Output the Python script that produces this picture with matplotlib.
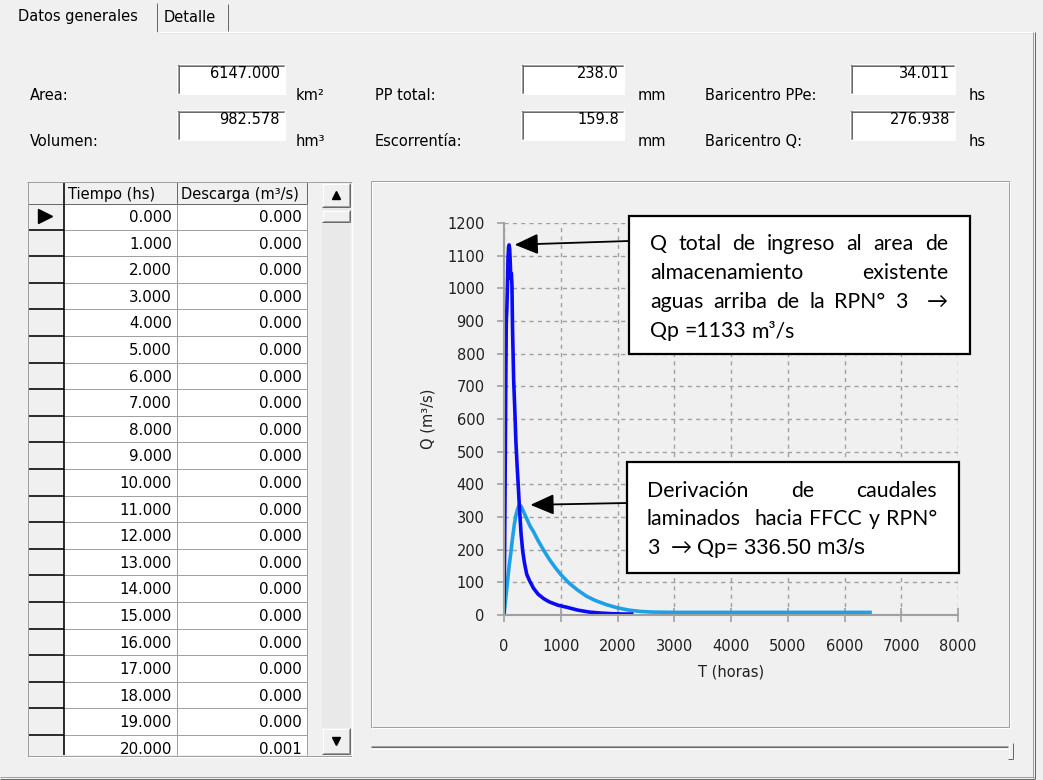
import matplotlib
matplotlib.use("Agg")
import matplotlib.pyplot as plt
from matplotlib.patches import Rectangle

# ---- values ----
row1_labels = ["Area:", "PP total:", "Baricentro PPe:"]
row1_values = ["6147.000", "238.0", "34.011"]
row1_units = ["km²", "mm", "hs"]
row2_labels = ["Volumen:", "Escorrentía:", "Baricentro Q:"]
row2_values = ["982.578", "159.8", "276.938"]
row2_units = ["hm³", "mm", "hs"]

table_headers = ["Tiempo (hs)", "Descarga (m³/s)"]
tiempo_hs = [0.0, 1.0, 2.0, 3.0, 4.0, 5.0, 6.0, 7.0, 8.0, 9.0, 10.0,
             11.0, 12.0, 13.0, 14.0, 15.0, 16.0, 17.0, 18.0, 19.0, 20.0]
descarga = [0.000, 0.000, 0.000, 0.000, 0.000, 0.000, 0.000, 0.000, 0.000, 0.000, 0.000,
            0.000, 0.000, 0.000, 0.000, 0.000, 0.000, 0.000, 0.000, 0.000, 0.001]

# inflow hydrograph (dark blue)
inflow_t = [0, 10, 20, 30, 40, 50, 60, 70, 80, 90, 100, 110, 120, 130, 140, 150, 170, 190,
            210, 230, 250, 270, 300, 330, 360, 400, 450, 520, 600, 700, 800, 950, 1100,
            1300, 1500, 1700, 1900, 2100, 2250]
inflow_q = [0, 180, 420, 680, 900, 935, 1000, 1090, 1125, 1133, 1120, 1080, 1030, 1045,
            1010, 880, 720, 630, 530, 460, 400, 335, 250, 195, 160, 125, 105, 82, 64, 50,
            40, 30, 24, 15, 9, 6, 4, 3, 3]

# routed / diverted hydrograph (light blue)
routed_t = [0, 30, 60, 90, 120, 150, 180, 210, 240, 270, 300, 340, 400, 460, 520, 600, 700,
            800, 900, 1000, 1150, 1300, 1450, 1600, 1800, 2000, 2200, 2400, 2600, 3000,
            4000, 5000, 6000, 6450]
routed_q = [0, 50, 100, 150, 190, 235, 275, 305, 325, 336.5, 333, 318, 295, 272, 255, 228,
            198, 170, 146, 124, 97, 76, 58, 45, 32, 22, 15, 11, 9, 8, 8, 8, 8, 8]

x_ticks = [0, 1000, 2000, 3000, 4000, 5000, 6000, 7000, 8000]
y_ticks = [0, 100, 200, 300, 400, 500, 600, 700, 800, 900, 1000, 1100, 1200]

note_inflow = ["Q total de ingreso al area de",
               "almacenamiento existente",
               "aguas arriba de la RPN° 3  →",
               "Qp =1133 m³/s"]
note_routed = ["Derivación de caudales",
               "laminados  hacia FFCC y RPN°",
               "3  → Qp=",
               "336.50 m3/s"]

W, H = 1043, 780
BG = "#f0f0f0"
GRAY = "#a0a0a0"
DARK = "#696969"
GUI_FONT = "DejaVu Sans"
NOTE_FONT = ["Lato", "DejaVu Sans"]

fig = plt.figure(figsize=(W / 100, H / 100), dpi=100, facecolor=BG)

# pixel-coordinate layer for the window widgets
gui = fig.add_axes([0, 0, 1, 1], zorder=0)
gui.set_xlim(0, W)
gui.set_ylim(H, 0)
gui.axis("off")


def hline(y, x0, x1, c, lw=1.0, ax=gui):
    ax.plot([x0, x1], [y, y], color=c, lw=lw * 0.72, solid_capstyle="butt")


def vline(x, y0, y1, c, lw=1.0, ax=gui):
    ax.plot([x, x], [y0, y1], color=c, lw=lw * 0.72, solid_capstyle="butt")


def sunken(x0, y0, x1, y1, fill="white"):
    gui.add_patch(Rectangle((x0, y0), x1 - x0, y1 - y0, facecolor=fill, edgecolor="none"))
    hline(y0 + 0.5, x0, x1, GRAY)
    vline(x0 + 0.5, y0, y1, GRAY)
    hline(y0 + 1.5, x0 + 1, x1 - 1, DARK)
    vline(x0 + 1.5, y0 + 1, y1 - 1, DARK)
    hline(y1 - 0.5, x0, x1, "white")
    vline(x1 - 0.5, y0, y1, "white")


def raised(x0, y0, x1, y1):
    gui.add_patch(Rectangle((x0, y0), x1 - x0, y1 - y0, facecolor=BG, edgecolor="none"))
    hline(y0 + 0.5, x0, x1, "white")
    vline(x0 + 0.5, y0, y1, "white")
    hline(y1 - 0.5, x0, x1, DARK)
    vline(x1 - 0.5, y0, y1, DARK)
    hline(y1 - 1.5, x0 + 1, x1 - 1, GRAY)
    vline(x1 - 1.5, y0 + 1, y1 - 1, GRAY)


# tabs and page frame
gui.text(18, 17, "Datos generales", fontsize=10.5, family=GUI_FONT, va="center", color="black")
gui.text(164, 18, "Detalle", fontsize=10.5, family=GUI_FONT, va="center", color="black")
vline(157, 3, 32, DARK)
vline(228, 4, 31, DARK)
hline(32, 157, 1034, "white")
hline(33, 157, 1034, "#e3e3e3")
vline(1033, 32, 778, GRAY)
vline(1034.5, 32, 779, DARK)
hline(777, 0, 1034, GRAY)
hline(778.5, 0, 1035, DARK)

# header fields
label_x = [30, 375, 705]
box_x = [(177, 285), (521, 624), (850, 955)]
unit_x = [296, 638, 969]
rows = [(row1_labels, row1_values, row1_units, 64, 94, 96),
        (row2_labels, row2_values, row2_units, 110, 140, 142)]
for labels, values, units, by0, by1, ly in rows:
    for i in range(3):
        gui.text(label_x[i], ly, labels[i], fontsize=10.5, family=GUI_FONT, va="center")
        sunken(box_x[i][0], by0, box_x[i][1], by1)
        gui.text(box_x[i][1] - 5, by0 + 10, values[i], fontsize=10.5, family=GUI_FONT,
                 va="center", ha="right")
        gui.text(unit_x[i], ly, units[i], fontsize=10.5, family=GUI_FONT, va="center")

# data table
tx = [28, 64, 177, 307]
head_top, head_bot = 182, 204
row_top0, row_h = 203, 26.6
tab_bot = 755
gui.add_patch(Rectangle((tx[0], head_top), tx[3] - tx[0], tab_bot - head_top,
                        facecolor="white", edgecolor="none"))
gui.add_patch(Rectangle((tx[0], head_top), tx[1] - tx[0], tab_bot - head_top,
                        facecolor=BG, edgecolor="none"))
gui.add_patch(Rectangle((tx[0], head_top), tx[3] - tx[0], head_bot - head_top,
                        facecolor=BG, edgecolor="none"))
for k in range(len(tiempo_hs)):
    top = row_top0 + k * row_h
    bot = top + row_h
    if bot <= tab_bot:
        hline(bot, tx[1], tx[3], GRAY)
        hline(bot, tx[0], tx[1], "black", 1.6)
    base = top + 19
    if base < tab_bot:
        gui.text(tx[2] - 5, base, f"{tiempo_hs[k]:.3f}", fontsize=10.8, family=GUI_FONT,
                 ha="right", va="baseline", clip_on=True)
        gui.text(tx[3] - 5, base, f"{descarga[k]:.3f}", fontsize=10.8, family=GUI_FONT,
                 ha="right", va="baseline", clip_on=True)
hline(head_bot, tx[0], tx[3], DARK)
vline(tx[1], head_top, tab_bot, "black", 1.6)
vline(tx[2], head_top, tab_bot, GRAY)
vline(tx[2], head_top, head_bot, DARK)
vline(tx[3], head_top, tab_bot, GRAY)
vline(tx[3], head_top, head_bot, DARK)
hd1 = gui.text(tx[1] + 4, 195, table_headers[0], fontsize=10.5, family=GUI_FONT, va="center")
hd2 = gui.text(tx[2] + 4, 195, table_headers[1], fontsize=10.5, family=GUI_FONT, va="center")
hd2.set_clip_path(Rectangle((tx[2], head_top), tx[3] - tx[2], head_bot - head_top,
                            transform=gui.transData))
gui.plot(45, 216, marker=">", ms=10, color="black")
# table outline
hline(head_top, tx[0] - 1, 352, GRAY)
vline(tx[0], head_top, tab_bot + 2, GRAY)
hline(tab_bot + 1.5, tx[0], 352, "white")
hline(tab_bot + 0.5, tx[0], 352, GRAY)
vline(352, head_top, tab_bot + 2, "white")

# vertical scrollbar
gui.add_patch(Rectangle((322, 183), 28, 572, facecolor="#e9e9e9", edgecolor="none"))
raised(322, 183, 350, 207)
gui.plot(336, 195, marker="^", ms=6, color="black")
raised(322, 210, 350, 222)
raised(322, 728, 350, 754)
gui.plot(336, 741, marker="v", ms=6, color="black")

# chart panel frame and slider
hline(181, 371, 1010, GRAY)
vline(371, 181, 728, GRAY)
hline(182, 372, 1009, "white")
vline(372, 182, 727, "white")
hline(727.5, 371, 1010, "white")
vline(1009.5, 181, 728, "white")
hline(726.5, 372, 1009, GRAY)
vline(1008.5, 182, 727, GRAY)
hline(745.5, 371, 1008, GRAY)
hline(746.5, 371, 1008, DARK)
hline(748.5, 371, 1008, "white")
gui.add_patch(Rectangle((1008, 743), 5, 16, facecolor=BG, edgecolor="none"))
vline(1008.5, 743, 757, "white")
vline(1012.5, 743, 759, DARK)
hline(758.5, 1008, 1013, DARK)

# ---- the chart ----
ax = fig.add_axes([504 / W, 1 - 615 / H, 454 / W, 392 / H], zorder=1)
ax.set_facecolor("none")
ax.plot(routed_t, routed_q, color="#1ea0e6", lw=2.6)
ax.plot(inflow_t, inflow_q, color="#0a0af5", lw=2.6)
ax.set_xlim(0, 8000)
ax.set_ylim(0, 1200)
ax.set_xticks(x_ticks)
ax.set_yticks(y_ticks)
ax.grid(True, ls=(0, (3, 3)), color="#a0a0a0", lw=1)
for side in ["top", "right"]:
    ax.spines[side].set_visible(False)
for side in ["left", "bottom"]:
    ax.spines[side].set_color("#a0a0a0")
    ax.spines[side].set_linewidth(1.5)
ax.tick_params(axis="x", direction="inout", length=10, width=1.2, color="#a0a0a0",
               pad=12, labelsize=10.5, labelcolor="#202020")
ax.tick_params(axis="y", direction="out", length=5, width=1.2, color="#a0a0a0",
               pad=9, labelsize=10.5, labelcolor="#202020")
ax.set_xlabel("T (horas)", fontsize=10.5, color="#202020")
ax.set_ylabel("Q (m³/s)", fontsize=10.5, color="#202020")
ax.xaxis.set_label_coords(0.5, -0.145)
ax.xaxis.label.set_va("center")
ax.yaxis.set_label_coords(-0.167, 0.5)
ax.yaxis.label.set_va("center")

# ---- callout boxes ----
over = fig.add_axes([0, 0, 1, 1], zorder=2)
over.set_xlim(0, W)
over.set_ylim(H, 0)
over.axis("off")
renderer = fig.canvas.get_renderer()


def natural_width(s, size, family):
    t = over.text(0, 0, s, fontsize=size, family=family)
    w = t.get_window_extent(renderer).width
    t.remove()
    return w


def place_words(line, x0, x1, y, size, justify=True):
    words = line.split(" ")
    texts = [over.text(x0, y, w, fontsize=size, family=NOTE_FONT, ha="left",
                       va="baseline", zorder=5) for w in words]
    widths = [t.get_window_extent(renderer).width if w else 0.0
              for t, w in zip(texts, words)]
    gap = size * 0.26 * 100 / 72
    if justify and len(words) > 1:
        gap = (x1 - x0 - sum(widths)) / (len(words) - 1)
    x = x0
    for t, w in zip(texts, widths):
        t.set_x(x)
        x += w + gap
    return x - gap


size = min(10 * 272 / natural_width(note_inflow[0].replace("  ", " "), 10, NOTE_FONT),
           10 * 282 / natural_width(note_routed[1], 10, NOTE_FONT))

box1 = (629, 216, 970, 354)
box2 = (627, 462, 959, 573)
for bx in (box1, box2):
    over.add_patch(Rectangle((bx[0], bx[1]), bx[2] - bx[0], bx[3] - bx[1],
                             facecolor="white", edgecolor="black", lw=1.6, zorder=4))

base1 = [250, 279, 308, 337]
for i, line in enumerate(note_inflow):
    place_words(line, 650, 948, base1[i], size, justify=i < 3)

base2 = [497, 525, 554]
place_words(note_routed[0], 647, 937, base2[0], size)
place_words(note_routed[1], 647, 937, base2[1], size)
end = place_words(note_routed[2], 647, 937, base2[2], size, justify=False)
over.text(end + 6, base2[2], note_routed[3], fontsize=size * 1.03, family="Liberation Sans",
          ha="left", va="baseline", zorder=5)

i1 = inflow_q.index(max(inflow_q))
i2 = routed_q.index(max(routed_q))
arrow = dict(arrowstyle="-|>,head_length=0.8,head_width=0.35", mutation_scale=18,
             color="black", lw=1.3, shrinkA=0)
over.annotate("", xy=(inflow_t[i1], inflow_q[i1]), xycoords=ax.transData,
              xytext=(box1[0], 241), textcoords=over.transData,
              arrowprops=dict(arrow, shrinkB=4), zorder=6, annotation_clip=False)
over.annotate("", xy=(routed_t[i2], routed_q[i2]), xycoords=ax.transData,
              xytext=(box2[0], 503), textcoords=over.transData,
              arrowprops=dict(arrow, shrinkB=8), zorder=6, annotation_clip=False)

fig.savefig("out.png", dpi=100, facecolor=BG)
